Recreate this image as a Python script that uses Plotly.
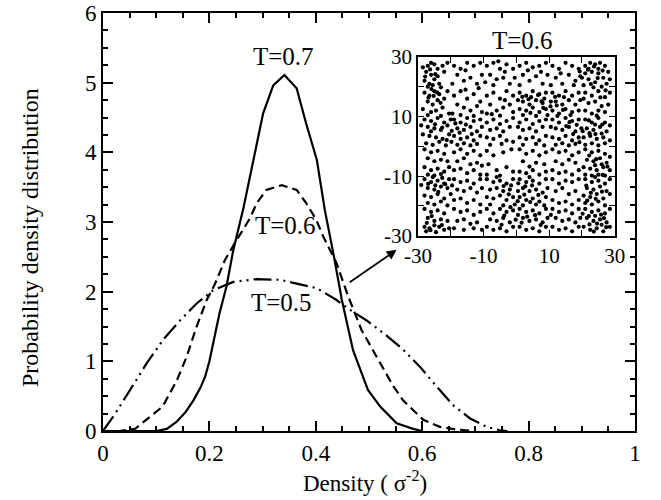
import plotly.graph_objects as go

# ---------------- data ----------------
t07_x = [0.0, 0.10, 0.12, 0.138, 0.155, 0.17, 0.183, 0.192, 0.20, 0.219, 0.232, 0.245, 0.264, 0.283, 0.301,
         0.320, 0.341, 0.364, 0.382, 0.402, 0.417, 0.433, 0.449, 0.470, 0.498, 0.521, 0.552, 0.583, 0.60]
t07_y = [0.0, 0.0, 0.03, 0.13, 0.27, 0.44, 0.62, 0.78, 1.0, 1.69, 2.07, 2.6, 3.2, 3.89, 4.56,
         4.96, 5.11, 4.92, 4.41, 3.89, 3.17, 2.55, 1.88, 1.16, 0.59, 0.35, 0.11, 0.03, 0.0]

t06_x = [0.0, 0.03, 0.06, 0.082, 0.112, 0.139, 0.157, 0.176, 0.195, 0.211, 0.229, 0.248, 0.262, 0.276, 0.289,
         0.307, 0.336, 0.364, 0.382, 0.401, 0.414, 0.439, 0.461, 0.486, 0.514, 0.546, 0.564, 0.583, 0.602,
         0.633, 0.665, 0.70]
t06_y = [0.0, 0.0, 0.03, 0.16, 0.35, 0.73, 1.06, 1.50, 1.88, 2.12, 2.45, 2.70, 2.88, 3.05, 3.27,
         3.46, 3.53, 3.46, 3.27, 3.03, 2.79, 2.41, 1.93, 1.45, 1.07, 0.64, 0.44, 0.30, 0.16,
         0.06, 0.02, 0.0]

t05_x = [0.0, 0.023, 0.051, 0.082, 0.113, 0.145, 0.176, 0.207, 0.245, 0.289, 0.333, 0.364, 0.402, 0.439,
         0.464, 0.495, 0.533, 0.564, 0.596, 0.627, 0.658, 0.690, 0.721, 0.746, 0.76]
t05_y = [0.0, 0.25, 0.59, 0.97, 1.31, 1.59, 1.83, 2.02, 2.14, 2.18, 2.17, 2.12, 2.05, 1.88,
         1.74, 1.59, 1.37, 1.17, 0.92, 0.64, 0.37, 0.18, 0.06, 0.01, 0.0]

x_tick_vals = [0, 0.2, 0.4, 0.6, 0.8, 1]
x_tick_text = ["0", "0.2", "0.4", "0.6", "0.8", "1"]
y_tick_vals = [0, 1, 2, 3, 4, 5, 6]
inset_tick_vals = [-30, -10, 10, 30]
inset_tick_text = ["-30", "-10", "10", "30"]

# particle positions of the T=0.6 snapshot
inset_points = [
    # top band
    (-27,27),(-26,28),(-25,27.5),(-27.5,25),(-26,24),(-24,26),(-28,22),(-26.5,21),(-25,22.5),(-23.5,21),
    (-27,20),(-24,23.5),(-22,25),(-21,28),(-22.5,27),(-28.5,26.5),(-25.5,20.5),(-23,19.8),
    (-19,27),(-17,26),(-15,28),(-13,27),(-11,28),(-18,24),(-16,22),(-14,23),(-12,21),(-19.5,21),(-10.5,24),(-15.5,25.5),
    (-9,27),(-7,28),(-5,26),(-3,27.5),(-1,26),(-8,24),(-6,22.5),(-4,23),(-2,21),(-9.5,21.5),(-0.5,23),(-7,20.5),(-3.5,25),(-5.5,28.5),
    (1,27),(3,28),(5,26.5),(7,27),(9,28),(2,24),(4,22),(6,23.5),(8,21),(9.5,24),(1,20.5),(3.5,25.5),(7.5,25),
    (11,27),(13,26),(15,28),(17,27),(19,26),(12,23),(14,21),(16,24),(18,22),(10.5,20.5),(19.5,23.5),(13.5,24.5),(17.5,20.5),
    (21,27),(22.5,28),(24,27.5),(25.5,28),(27,27),(28,25),(21,24.5),(23,25),(25,24.5),(26.5,23),(22,22.5),(24,21.5),
    (27.5,21),(20.5,20.5),(23.5,19.8),(26,20),(28.5,22.5),(22,26),(25,26),(20,23),
    # y 10..20
    (-28,18),(-26.5,17),(-25,18.5),(-23.5,17.5),(-27,15),(-25.5,14),(-24,15.5),(-22,16),(-28.5,12.5),(-26,11.5),
    (-24.5,12),(-22.5,13),(-20.5,11),(-27,10.5),(-21,18.5),(-23,10.2),
    (-19,17),(-17,18.5),(-15,16),(-13,17.5),(-11,15),(-18,14),(-16,13),(-14,12),(-12,13.5),(-19.5,11),(-17,10.5),
    (-13,10.2),(-10.5,11.5),(-15.5,19),(-11.5,19.5),
    (-9,17),(-7,18),(-5,16),(-3,18.5),(-1,17),(-8,14),(-6,12),(-4,13),(-2,14),(-9,11),(-1,11.5),(-5,10.3),(-7.5,10.8),(-3.5,15.5),
    (1,18),(3,17),(5,18.5),(7,17.5),(9,18),(2,15),(4,14),(6,15.5),(8,14.5),(1,12.5),(3,12),(5,13),(7,11.5),(9,12.5),
    (2,10.5),(6,10.2),(8.5,16),(4.5,16.5),(0.5,15.5),(9.5,10.5),
    (11,18),(13,17),(15,18.5),(17,17),(19,18),(12,15),(14,14),(16,15.5),(18,14),(11,12),(13,11),(15,12.5),(17,11.5),
    (19,12),(10.5,15),(12.5,10.2),(16.5,10.5),(19.5,15.5),(14.5,16.5),
    (21,18),(23,17),(25,18.5),(27,16.5),(22,14.5),(24,15),(26,13.5),(28,14),(21,12),(23,11),(25,12),(27,11.5),
    (20.5,16),(28.5,18),(24.5,10.3),
    # y 0..10
    (-28,9),(-26,8.5),(-24,9.5),(-22,8),(-27,6.5),(-25,6),(-23,5.5),(-21,7),(-28.5,4),(-26.5,3.5),(-24.5,3),(-22.5,2.5),
    (-20.5,4),(-27.5,1),(-25.5,0.5),(-23.5,1.5),(-21.5,0.3),(-29,7),(-20,9),(-26,5),
    (-19,9),(-17,8),(-15,9.5),(-13,8.5),(-11,9),(-18,6),(-16,5.5),(-14,6.5),(-12,5),(-10.5,6.5),(-19,3.5),(-17,2.5),
    (-15,3),(-13,2),(-11,3.5),(-18,0.5),(-16,1),(-14,0.3),(-12,0.8),(-19.8,1.5),
    (-9,8),(-7,9),(-5,7.5),(-3,8.5),(-1,9.5),(-8,5.5),(-6,6),(-4,5),(-2,6.5),(-9,3),(-7,2.5),(-5,3.5),(-3,2),(-1,1.5),(-8,0.5),(-4.5,0.8),
    (1,8),(3,9),(5,7.5),(7,8.5),(9,9),(2,5.5),(4,6),(6,5),(8,6.5),(1,3),(3,2.5),(5,3),(7,2),(9,3.5),(2,0.5),(6,0.8),(8.5,0.3),(0.5,6.5),
    (11,9),(13,8),(15,9.5),(17,8.5),(19,9),(12,6),(14,5.5),(16,6.5),(18,5),(10.5,6.5),(11,3),(13,2.5),(15,3.5),(17,2),
    (19,3),(12,0.5),(14,1),(16,0.3),(18,0.8),(19.8,6),
    (21,9),(23,8),(25,9.5),(27,8),(21.5,6),(23.5,5.5),(25.5,6.5),(27.5,5),(20.5,3),(22.5,3.5),(24.5,2.5),(26.5,3),
    (28.5,2),(21,0.5),(23,1),(25,0.3),(27,1),(28.5,7),(24,7.3),(26,4.3),
    # y -10..0
    (-28,-1),(-26,-2),(-24,-1.5),(-22,-2.5),(-27,-4),(-25,-5),(-23,-4.5),(-21,-5),(-28,-7),(-26,-8),(-24,-7.5),(-22,-8.5),
    (-20.5,-7),(-27,-9.5),(-25,-9.8),(-23,-9.3),
    (-19,-2),(-17,-1),(-15,-2.5),(-13,-1.5),(-11,-3),(-18,-5),(-16,-4),(-14,-6),(-12,-5.5),(-19,-8),(-17,-7.5),(-15,-9),
    (-13,-8),(-11,-9.5),(-10.5,-6.5),
    (-9,-1.5),(-7,-3),(-4,-2),(-1.5,-1),(-8.5,-6),(-6,-8),(-3,-7),(-9,-9.5),(-5,-9.8),(-1,-8.5),
    (1,-1),(3,-2.5),(5,-1.5),(7,-3),(9,-2),(2,-5),(6,-5.5),(8.5,-6),(1,-8.5),(3,-9),(5,-8),(7,-9.5),(9,-8.5),(4,-6.8),
    (11,-1),(13,-2),(15,-1.5),(17,-3),(19,-2),(12,-5),(14,-6),(16,-4.5),(18,-5.5),(11,-8),(13,-9),(15,-8.5),(17,-9.5),(19,-8),
    (21,-1),(23,-2),(25,-1.5),(27,-2.5),(21.5,-4.5),(23.5,-5),(25.5,-4),(27.5,-5.5),(20.5,-7),(22.5,-7.5),(24.5,-8),
    (26.5,-7),(28.5,-8),(21,-9.5),(23,-9.8),(25,-9.5),(27,-9.8),(28.5,-3.5),(24,-6.3),(26,-6),
    # y -20..-10
    (-28,-11),(-26,-12),(-24,-11.5),(-22,-12.5),(-20.5,-11),(-27,-14),(-25,-14.5),(-23,-13.5),(-21,-14),(-28,-16.5),
    (-26,-17),(-24,-16),(-22,-17.5),(-27,-19),(-25,-19.5),(-23,-18.5),(-21,-19.8),(-29,-13),(-20,-16),(-25.5,-10.3),
    (-19,-11),(-17,-12),(-15,-11.5),(-13,-12.5),(-11,-11),(-18,-14.5),(-16,-15),(-14,-14),(-12,-15.5),(-19,-18),
    (-17,-17.5),(-15,-19),(-13,-18),(-11,-19.5),(-10.5,-14),
    (-9,-11),(-7,-12),(-5,-11.5),(-3,-12.5),(-1,-11),(-8,-14.5),(-6,-14),(-4,-15),(-2,-14.5),(-9,-17),(-7,-17.5),
    (-5,-16.5),(-3,-18),(-1,-17),(-8,-19.5),(-4,-19.8),(-0.5,-19.5),(-6,-10.3),
    (1,-11),(3,-12),(5,-11.5),(7,-12.5),(9,-11),(2,-14),(4,-15),(6,-14.5),(8,-15.5),(1,-17),(3,-18),(5,-17.5),
    (7,-18.5),(9,-17),(2,-19.8),(6,-19.5),(8.5,-19.8),(0.5,-15),(9.5,-14),(4,-10.3),
    (11,-11),(13,-12.5),(15,-11.5),(17,-12),(19,-11),(12,-15),(14,-14),(16,-16),(18,-15),(11,-18),(13,-19),
    (15,-18.5),(17,-19.5),(19,-18),
    (21,-11),(23,-12),(25,-11.5),(27,-12.5),(21.5,-14),(23.5,-14.5),(25.5,-13.5),(27.5,-15),(20.5,-16.5),(22.5,-17),
    (24.5,-16),(26.5,-17.5),(28.5,-16),(21,-19),(23,-19.5),(25,-18.5),(27,-19.8),(28.5,-11),(24,-10.3),
    # bottom band
    (-28,-21),(-26,-22),(-24,-21.5),(-22,-22.5),(-27,-24),(-25,-25),(-23,-24.5),(-21,-25),(-28,-27),(-26.5,-27.5),
    (-25,-26.5),(-23.5,-27),(-27.5,-28.5),(-24.5,-28.8),(-20.5,-27.5),(-22,-28),
    (-19,-21),(-17,-22),(-15,-21.5),(-13,-23),(-11,-22),(-18,-25),(-16,-24.5),(-14,-26),(-12,-25.5),(-19,-27.5),
    (-16,-28),(-13,-27.5),(-10.5,-28),
    (-9,-21),(-7,-22.5),(-5,-21),(-3,-22),(-1,-21.5),(-8,-24.5),(-6,-25),(-4,-24),(-2,-25.5),(-9,-27),(-7,-28),
    (-5,-27.5),(-3,-28.5),(-1,-27),(-4.5,-26.3),
    (1,-21),(3,-22),(5,-21.5),(7,-22.5),(9,-21),(2,-24),(4,-25),(6,-24.5),(8,-25.5),(1,-27),(3,-28),(5,-27.5),
    (7,-28.5),(9,-27),(0.5,-23),(9.5,-24),
    (11,-21),(13,-22),(15,-21.5),(17,-22.5),(19,-21),(12,-24),(14,-25),(16,-24.5),(18,-25.5),(11,-27),(13,-28),
    (15,-27.5),(17,-28.5),(19,-27),(10.5,-23),(19.5,-24),
    (21,-21),(23,-22),(25,-21.5),(27,-22.5),(21.5,-24),(23.5,-25),(25.5,-24.5),(27.5,-25.5),(20.5,-27),(22.5,-28),
    (24.5,-27.5),(26.5,-28.5),(28.5,-27),(28.5,-21),(24,-23.3),(26,-26.3),
    # extra particles in the denser clusters
    (-26.3,25.8),(-24.7,24.2),(-27.8,23.4),(-25.9,19.2),(-24.2,18.1),(-26.8,16.3),(-23.1,14.6),(-25.2,16.9),
    (19.3,25.1),(21.8,25.7),(23.7,26.8),(26.3,25.4),(24.8,22.9),(22.7,20.9),(27.2,18.8),(25.6,16.4),
    (1.8,16.6),(3.7,15.8),(6.6,17.2),(8.2,12.9),(10.4,13.4),(12.3,13.7),(14.2,12.2),(11.8,16.6),(4.3,11.2),(7.7,15.1),
    (16.2,8.1),(18.4,7.2),(20.2,5.1),(22.3,4.4),(24.1,4.1),(26.2,7.3),(17.3,4.1),(15.2,6.8),(19.2,1.4),(22.1,8.7),
    (-24.8,7.4),(-22.6,6.3),(-19.7,5.2),(-17.3,4.6),(-15.4,7.3),(-13.6,4.1),(-21.2,2.1),(-18.6,7.7),
    (-26.9,-12.6),(-24.7,-13.1),(-22.6,-10.6),(-21.7,-12.7),(-19.6,-13.1),(-23.8,-15.3),
    (-3.9,-13.3),(-1.6,-13.1),(0.6,-12.4),(2.7,-13.4),(4.8,-13.1),(6.7,-16.3),(2.4,-16.2),(4.2,-18.7),(0.4,-18.4),
    (-2.3,-16.1),(-1.8,-20.4),(-3.7,-23.2),(-0.2,-24.6),(1.6,-25.6),(3.3,-23.6),(5.7,-23.1),(7.4,-26.4),
    (20.2,-22.6),(22.1,-23.4),(24.6,-25.9),(26.7,-24.1),(22.3,-26.2),(25.8,-22.9),(27.4,-27.1),(23.6,-28.6),
    (21.6,-18.2),(24.2,-17.6),(26.1,-15.2),(22.7,-15.6),(21.3,-13.2),(26.3,-9.6),(24.3,-4.3),(22.2,-3.1),(27.8,-6.8),
    (-27.3,-25.7),(-25.8,-23.4),(-22.7,-26.4),(-26.2,-28.1),
]
inset_x = [p[0] for p in inset_points]
inset_y = [p[1] for p in inset_points]

# ---------------- figure ----------------
FONT = "Liberation Serif, Times New Roman, serif"
fig = go.Figure()
fig.add_trace(go.Scatter(x=t07_x, y=t07_y, mode="lines", line=dict(color="black", width=2.2), showlegend=False))
fig.add_trace(go.Scatter(x=t06_x, y=t06_y, mode="lines",
                         line=dict(color="black", width=2.2, dash="9px,5px"), showlegend=False))
fig.add_trace(go.Scatter(x=t05_x, y=t05_y, mode="lines",
                         line=dict(color="black", width=2.2, dash="18px,5px,2px,5px,2px,5px"), showlegend=False))
fig.add_trace(go.Scatter(x=inset_x, y=inset_y, mode="markers", xaxis="x2", yaxis="y2",
                         marker=dict(color="black", size=4.2), showlegend=False))

axis_common = dict(showgrid=False, zeroline=False, showline=True, linecolor="black", linewidth=2,
                   mirror="ticks", ticks="inside", tickcolor="black", tickwidth=1.5, automargin=False,
                   tickfont=dict(family=FONT, size=23, color="black"))
inset_common = dict(range=[-30, 30], tickvals=inset_tick_vals, ticktext=inset_tick_text, ticklen=6,
                    minor=dict(ticks="inside", dtick=10, tick0=0, ticklen=6, tickwidth=1.3, tickcolor="black"),
                    showgrid=False, zeroline=False, showline=True, linecolor="black", linewidth=1.5,
                    mirror="ticks", ticks="inside", tickcolor="black", tickwidth=1.3, automargin=False,
                    tickfont=dict(family=FONT, size=21, color="black"))

fig.update_layout(
    template="none",
    width=661, height=500,
    margin=dict(l=103, r=26, t=13, b=69),
    paper_bgcolor="white", plot_bgcolor="white",
    font=dict(family=FONT, color="black"),
    xaxis=dict(range=[0, 1], domain=[0, 1], tickvals=x_tick_vals, ticktext=x_tick_text, ticklen=10,
               minor=dict(ticks="inside", dtick=0.05, ticklen=5, tickwidth=1.5, tickcolor="black"),
               **axis_common),
    yaxis=dict(range=[0, 6], domain=[0, 1], tickvals=y_tick_vals, ticklen=10,
               minor=dict(ticks="inside", dtick=0.25, ticklen=5, tickwidth=1.5, tickcolor="black"),
               **axis_common),
    xaxis2=dict(domain=[0.592, 0.962], anchor="y2", **inset_common),
    yaxis2=dict(domain=[0.467, 0.895], anchor="x2", **inset_common),
)

ann_font = dict(family=FONT, size=25, color="black")
centered = dict(showarrow=False, xanchor="center", yanchor="middle")
fig.add_annotation(x=0.34, y=5.38, xref="x", yref="y", text="T=0.7", font=ann_font, **centered)
fig.add_annotation(x=0.343, y=2.95, xref="x", yref="y", text="T=0.6", font=ann_font, **centered)
fig.add_annotation(x=0.335, y=1.85, xref="x", yref="y", text="T=0.5", font=ann_font, **centered)
fig.add_annotation(x=0.789, y=0.935, xref="paper", yref="paper", text="T=0.6", font=ann_font, **centered)
fig.add_annotation(x=0.552, y=2.60, xref="x", yref="y", ax=0.461, ay=2.12, axref="x", ayref="y",
                   text="", showarrow=True, arrowhead=2, arrowsize=1.1, arrowwidth=1.8, arrowcolor="black")
fig.add_annotation(x=0.493, y=-0.121, xref="paper", yref="paper", text="Density ( σ<sup>-2</sup>)",
                   font=dict(family=FONT, size=23, color="black"), **centered)
fig.add_annotation(x=-0.137, y=0.462, xref="paper", yref="paper", text="Probability density distribution",
                   textangle=-90, font=dict(family=FONT, size=24, color="black"), **centered)

fig.write_html("out.html", config={"displayModeBar": False},
               post_script="document.body.style.margin='0px';")
